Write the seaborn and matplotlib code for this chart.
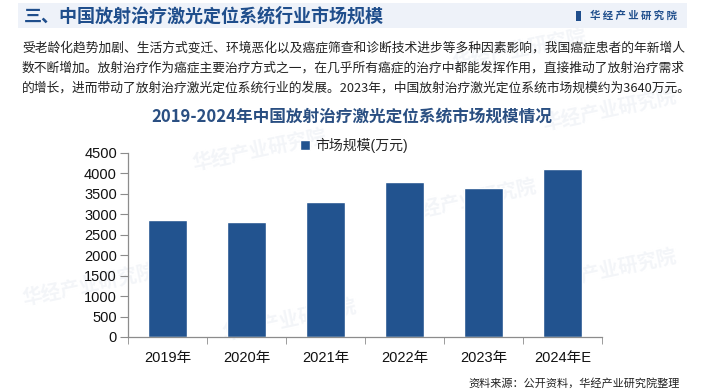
import numpy as np
import pandas as pd
import seaborn as sns
import matplotlib.pyplot as plt
from matplotlib.patches import Rectangle, Patch

# data
years = ['2019年', '2020年', '2021年', '2022年', '2023年', '2024年E']
market_size = [2860, 2810, 3300, 3790, 3640, 4110]
y_ticks = [0, 500, 1000, 1500, 2000, 2500, 3000, 3500, 4000, 4500]

header = '三、中国放射治疗激光定位系统行业市场规模'
intro_lines = [
    '受老龄化趋势加剧、生活方式变迁、环境恶化以及癌症筛查和诊断技术进步等多种因素影响，我国癌症患者的年新增人',
    '数不断增加。放射治疗作为癌症主要治疗方式之一，在几乎所有癌症的治疗中都能发挥作用，直接推动了放射治疗需求',
    '的增长，进而带动了放射治疗激光定位系统行业的发展。2023年，中国放射治疗激光定位系统市场规模约为3640万元。',
]
chart_title = '2019-2024年中国放射治疗激光定位系统市场规模情况'
legend_label = '市场规模(万元)'
source = '资料来源：公开资料，华经产业研究院整理'
logo = '华经产业研究院'

df = pd.DataFrame({'year': years, 'size': market_size})

sns.set_style('white')
plt.rcParams['font.family'] = ['Noto Sans CJK SC', 'DejaVu Sans']
num_font = ['Liberation Sans', 'Noto Sans CJK SC']

bar_color = '#22538F'
dark_blue = '#1F4E8C'

fig = plt.figure(figsize=(7.04, 3.90), dpi=100)
W, H = 704, 390

def px(x, y):
    return x / W, 1 - y / H

# header band
fig.patches.append(Rectangle(px(18, 28), (687 - 18) / W, 25 / H, transform=fig.transFigure,
                             facecolor='#EEF2F9', edgecolor='none', zorder=-2))
fig.text(*px(24, 16), header, fontsize=13, fontweight='bold', color=dark_blue, va='center')
fig.patches.append(Rectangle(px(576, 21), 5 / W, 10 / H, transform=fig.transFigure,
                             facecolor=dark_blue, edgecolor='none'))
fig.text(*px(590, 16), ' '.join(logo), fontsize=7.5, fontweight='bold',
         color=dark_blue, va='center')

# faint watermarks, behind the chart
for wx, wy in [(90, 285), (260, 150), (290, 320), (470, 200), (520, 50), (610, 110), (610, 270)]:
    fig.text(*px(wx, wy), logo, fontsize=14, fontweight='bold', color='#EEF1F6', alpha=0.7,
             rotation=12, ha='center', va='center', zorder=-1)

# intro paragraph
for i, line in enumerate(intro_lines):
    fig.text(*px(22, 48 + i * 20), line, fontsize=9.2, color='#222222', va='center')

fig.text(*px(352, 117), chart_title, fontsize=12, fontweight='bold', color='#2A4F82',
         ha='center', va='center')

ax = fig.add_axes([128 / W, 1 - 337 / H, (602 - 128) / W, (337 - 153) / H])
ax.patch.set_alpha(0)
sns.barplot(data=df, x='year', y='size', color=bar_color, width=0.5, saturation=1, ax=ax)
ax.set_xlim(-0.5, len(years) - 0.5)
ax.set_ylim(0, 4500)
ax.set_yticks(y_ticks)
ax.set_xlabel('')
ax.set_ylabel('')
for s in ['top', 'right']:
    ax.spines[s].set_visible(False)
for s in ['left', 'bottom']:
    ax.spines[s].set_color('#8C8C8C')
    ax.spines[s].set_linewidth(0.9)
ax.tick_params(axis='y', length=6, color='#8C8C8C', direction='out', pad=2, left=True)
ax.tick_params(axis='x', length=0, pad=10)
ax.set_xticks(np.arange(-0.5, len(years), 1), minor=True)
ax.tick_params(axis='x', which='minor', length=5, color='#8C8C8C', bottom=True)
for lab in ax.get_yticklabels() + ax.get_xticklabels():
    lab.set_family(num_font)
    lab.set_fontsize(10.5)
    lab.set_color('#111111')

fig.legend(handles=[Patch(facecolor=bar_color, label=legend_label)], loc='center',
           bbox_to_anchor=px(354, 145), frameon=False,
           handlelength=0.7, handleheight=0.7, handletextpad=0.4,
           prop={'family': num_font, 'size': 10})

fig.text(*px(680, 383), source, fontsize=8, color='#222222', ha='right', va='center')

plt.savefig('out.png', dpi=100)
